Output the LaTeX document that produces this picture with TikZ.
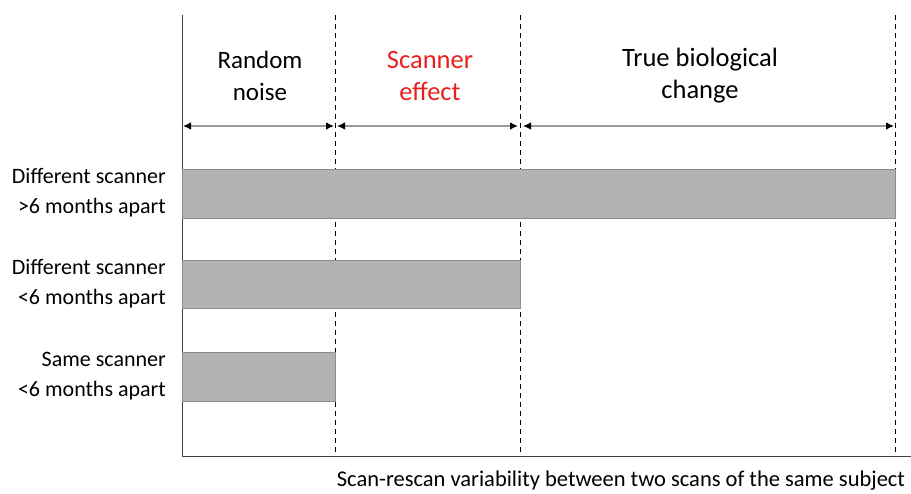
\documentclass[tikz,border=0pt]{standalone}
\usepackage{fontspec}
\setmainfont{Carlito}
\usetikzlibrary{arrows.meta}
\definecolor{barfill}{HTML}{B3B3B3}
\definecolor{baredge}{HTML}{8C8C8C}
\definecolor{spanline}{HTML}{9A9A9A}
\definecolor{effectred}{HTML}{E8201C}

\begin{document}
\begin{tikzpicture}[x=1pt,y=-1pt,font=\fontsize{16}{20}\selectfont,
  bar/.style={draw=baredge,fill=barfill,line width=0.8pt},
  span/.style={spanline,line width=1.2pt,{Latex[black,length=8pt,width=7.5pt]}-{Latex[black,length=8pt,width=7.5pt]}},
  divider/.style={dashed,line width=0.8pt,dash pattern=on 5pt off 4pt},
  rowlabel/.style={anchor=east,align=right,inner sep=0pt,font=\fontsize{22}{30}\selectfont},
  headlabel/.style={align=center,font=\fontsize{26.5}{32}\selectfont}]
  \useasboundingbox (0,0) rectangle (911,494);
  % axes and limits of the three regions
  \coordinate (origin) at (182,456);
  \coordinate (top) at (182,15);
  \coordinate (xend) at (911,456);
  \coordinate (noisetop) at (335,15);   \coordinate (noisebot) at (335,456);
  \coordinate (effecttop) at (520,15);  \coordinate (effectbot) at (520,456);
  \coordinate (changetop) at (895,15);  \coordinate (changebot) at (895,456);
  \draw[line width=1pt,black!75] (top) -- (origin) -- (xend);
  \draw[divider] (noisetop) -- (noisebot);
  \draw[divider] (effecttop) -- (effectbot);
  \draw[divider] (changetop) -- (changebot);

  % region headings
  \node[headlabel,font=\fontsize{25}{32}\selectfont] (noise) at (260,76) {Random\\noise};
  \node[headlabel,text=effectred] (effect) at (430,76) {Scanner\\effect};
  \node[headlabel] (change) at (700,76) {True biological\\change};
  \coordinate (s0) at (183,126); \coordinate (s1) at (334,126);
  \coordinate (s2) at (337,126); \coordinate (s3) at (518,126);
  \coordinate (s4) at (523,126); \coordinate (s5) at (894,126);
  \draw[span] (s0) -- (s1);
  \draw[span] (s2) -- (s3);
  \draw[span] (s4) -- (s5);

  % bars
  \draw[bar] (182,169) rectangle (895,218);
  \draw[bar] (182,260) rectangle (520,308);
  \draw[bar] (182,352) rectangle (335,401);
  \node[rowlabel] (rowA) at (166,193) {Different scanner\\{>}6 months apart};
  \node[rowlabel] (rowB) at (166,284) {Different scanner\\{<}6 months apart};
  \node[rowlabel] (rowC) at (166,376) {Same scanner\\{<}6 months apart};

  \node[font=\fontsize{22.5}{26}\selectfont] (xlabel) at (621,481) {Scan-rescan variability between two scans of the same subject};
\end{tikzpicture}
\end{document}
